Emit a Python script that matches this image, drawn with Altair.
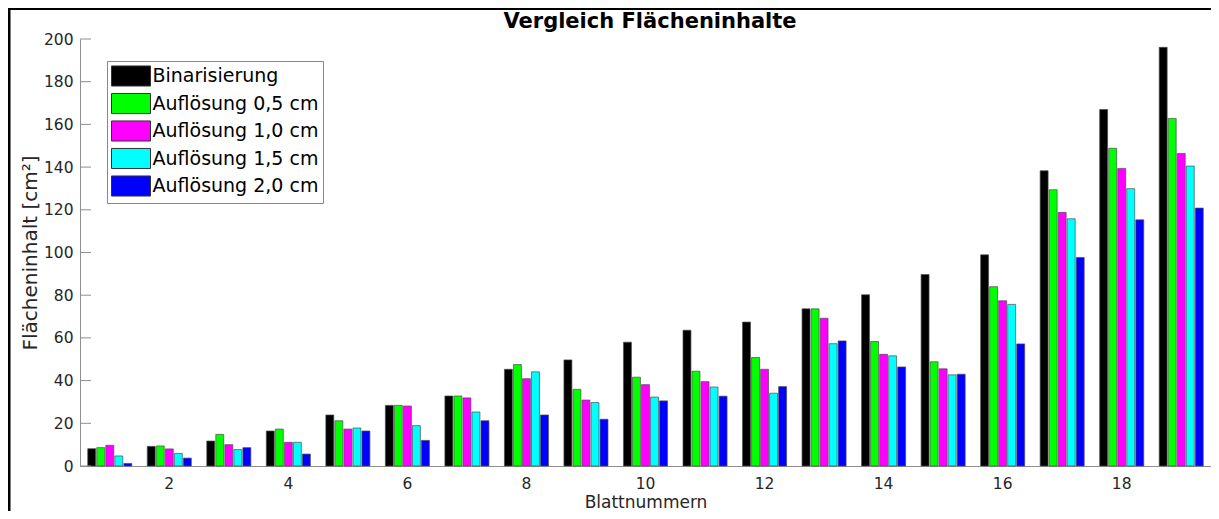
import altair as alt
import pandas as pd

# ---- data ----
leaves = list(range(1, 20))
series_names = ["Binarisierung", "Auflösung 0,5 cm", "Auflösung 1,0 cm",
                "Auflösung 1,5 cm", "Auflösung 2,0 cm"]
series_colors = ["#000000", "#00ff00", "#ff00ff", "#00ffff", "#0000ff"]

binarisierung = [8.1, 9.2, 11.7, 16.4, 23.9, 28.4, 32.8, 45.3, 49.7, 58.0,
                 63.6, 67.4, 73.6, 80.2, 89.7, 98.9, 138.3, 167.0, 196.1]
aufl_05 = [8.6, 9.4, 14.8, 17.3, 21.2, 28.4, 32.8, 47.5, 35.9, 41.6,
           44.4, 50.8, 73.6, 58.3, 48.8, 84.0, 129.4, 148.8, 162.8]
aufl_10 = [9.7, 8.0, 10.0, 11.1, 17.3, 28.1, 31.9, 40.9, 30.9, 38.1,
           39.5, 45.3, 69.2, 52.3, 45.5, 77.4, 118.8, 139.4, 146.4]
aufl_15 = [4.7, 5.9, 7.7, 11.1, 17.8, 18.9, 25.3, 44.1, 29.7, 32.3,
           37.0, 34.1, 57.3, 51.6, 42.7, 75.7, 115.8, 129.9, 140.5]
aufl_20 = [1.2, 3.7, 8.6, 5.6, 16.4, 12.0, 21.2, 23.9, 21.9, 30.5,
           32.7, 37.2, 58.6, 46.4, 43.0, 57.2, 97.7, 115.3, 120.8]

x_tick_labels = [2, 4, 6, 8, 10, 12, 14, 16, 18]
y_ticks = [0, 20, 40, 60, 80, 100, 120, 140, 160, 180, 200]

TITLE = "Vergleich Flächeninhalte"
X_TITLE = "Blattnummern"
Y_TITLE = "Flächeninhalt [cm²]"

# ---- long table ----
all_series = [binarisierung, aufl_05, aufl_10, aufl_15, aufl_20]
rows = []
for name, vals in zip(series_names, all_series):
    for leaf, v in zip(leaves, vals):
        rows.append({"Blatt": leaf, "Serie": name, "Wert": v})
df = pd.DataFrame(rows)

FONT = "DejaVu Sans"
W, H = 1131, 427
AXIS_GREY = "#8f8f8f"
TEXT = "#262626"

y_axis = alt.Axis(values=y_ticks, tickSize=0, labelPadding=7,
                  labelFontSize=15.5, labelFont=FONT, labelColor=TEXT,
                  domainColor=AXIS_GREY, domainWidth=1, grid=False,
                  title=Y_TITLE, titleFont=FONT, titleFontSize=20,
                  titleFontWeight="normal", titleColor=TEXT,
                  titleX=-44, titleY=H / 2, titleAngle=270,
                  titleBaseline="alphabetic", titleAlign="center")
y_scale = alt.Scale(domain=[0, 200], nice=False)

bars = alt.Chart(df).mark_bar(stroke="#4d4d4d", strokeWidth=0.7).encode(
    x=alt.X("Blatt:O", sort=leaves,
            scale=alt.Scale(paddingInner=0.26, paddingOuter=0.13),
            axis=alt.Axis(values=x_tick_labels, labelAngle=0, tickSize=0,
                          labelPadding=10, labelFontSize=15.5, labelFont=FONT,
                          labelColor=TEXT, domainColor=AXIS_GREY, domainWidth=1,
                          title=X_TITLE, titleFont=FONT, titleFontSize=17,
                          titleFontWeight="normal", titleColor=TEXT,
                          titleY=41, titleBaseline="alphabetic", grid=False)),
    xOffset=alt.XOffset("Serie:N", sort=series_names,
                        scale=alt.Scale(paddingInner=0.12)),
    y=alt.Y("Wert:Q", scale=y_scale, axis=y_axis),
    color=alt.Color("Serie:N", sort=series_names,
                    scale=alt.Scale(domain=series_names, range=series_colors),
                    legend=alt.Legend(orient="none", legendX=27, legendY=22,
                                      title=None,
                                      symbolType="M-2,-1.03H2V1.03H-2Z",
                                      symbolSize=380,
                                      symbolStrokeColor="#333333",
                                      symbolStrokeWidth=1,
                                      symbolOpacity=1,
                                      symbolOffset=9,
                                      labelOffset=11,
                                      labelFont=FONT, labelFontSize=19,
                                      labelColor="black", labelLimit=400,
                                      rowPadding=2.5, padding=4.5,
                                      fillColor="white", strokeColor="#888888")),
)

# inward y ticks (MATLAB style)
ytick_df = pd.DataFrame({"Wert": y_ticks})
yticks = alt.Chart(ytick_df).mark_rule(color=AXIS_GREY, strokeWidth=1).encode(
    y=alt.Y("Wert:Q", scale=y_scale, axis=y_axis),
    x=alt.value(0), x2=alt.value(11),
)

# title as text
title_df = pd.DataFrame({"t": [TITLE]})
title = alt.Chart(title_df).mark_text(
    font=FONT, fontSize=21, fontWeight="bold", color="black",
    align="center", baseline="alphabetic"
).encode(text="t:N", x=alt.value(570), y=alt.value(-11))

# figure frame (top and left edges visible in the reference)
frame_df = pd.DataFrame({"k": [0]})
frame_top = alt.Chart(frame_df).mark_rule(color="black", strokeWidth=3).encode(
    x=alt.value(-75), x2=alt.value(W + 20), y=alt.value(-30.5))
frame_left = alt.Chart(frame_df).mark_rule(color="black", strokeWidth=3).encode(
    x=alt.value(-71), y=alt.value(-32), y2=alt.value(H + 60))

chart = alt.layer(bars, yticks, title, frame_top, frame_left).properties(
    width=W, height=H,
    padding={"left": 72, "top": 31, "right": 0, "bottom": 45},
    autosize=alt.AutoSizeParams(type="none"),
    background="white",
).configure_view(stroke=None)

chart.save("out.html", embed_options={"renderer": "svg", "actions": False})
